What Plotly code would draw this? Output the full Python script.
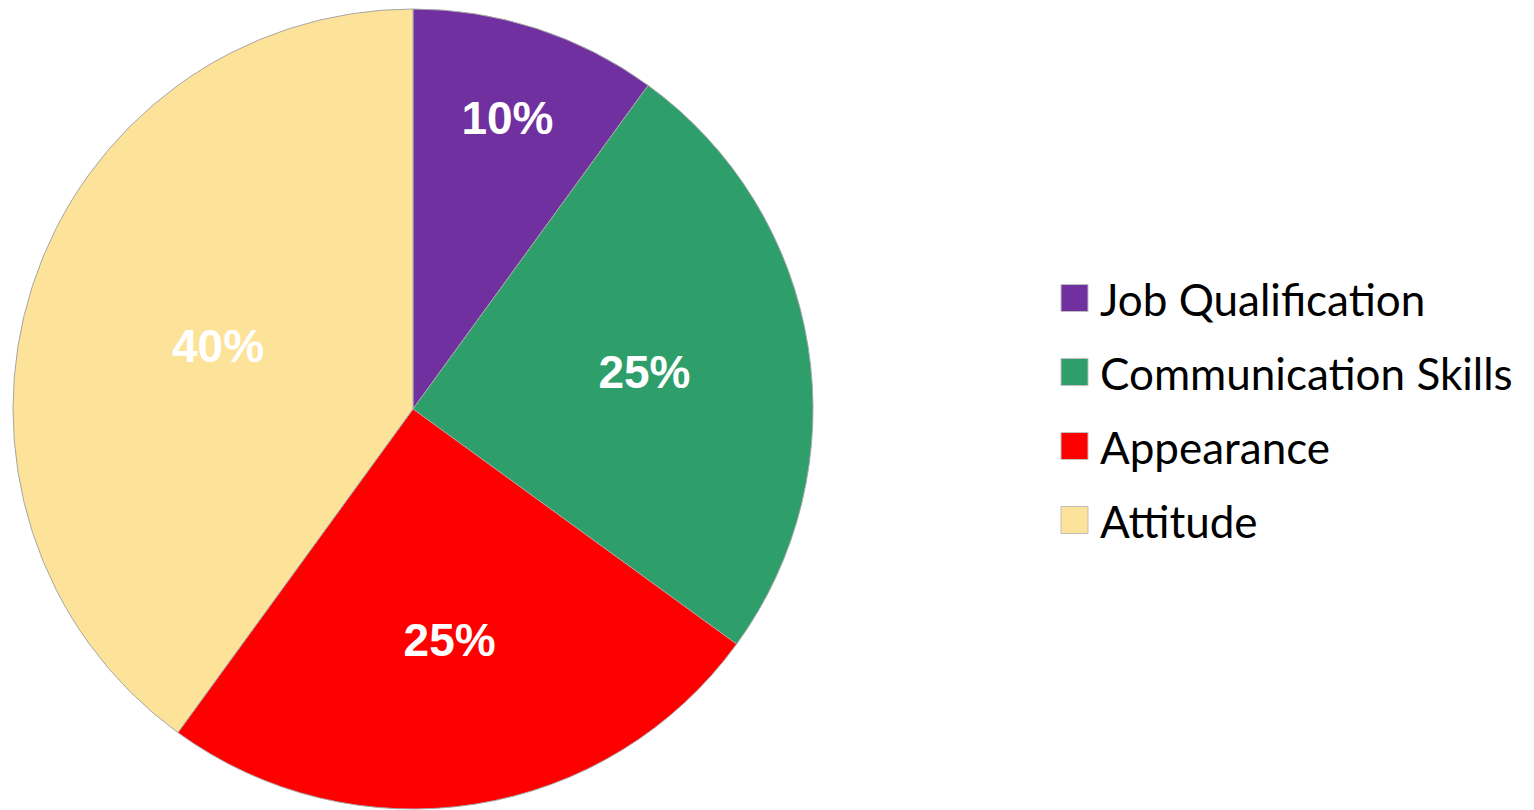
import plotly.graph_objects as go

categories = ["Job Qualification", "Communication Skills", "Appearance", "Attitude"]
values = [10, 25, 25, 40]
colors = ["#7030A0", "#2E9E6A", "#FF0000", "#FDE29A"]

W, H = 1534, 810
cx, cy, R = 413, 409, 400

fig = go.Figure(go.Pie(
    labels=categories,
    values=values,
    sort=False,
    direction="clockwise",
    rotation=0,
    marker=dict(colors=colors, line=dict(color="#A6A6A6", width=1)),
    textinfo="percent",
    texttemplate="%{percent:.0%}",
    textposition="inside",
    insidetextorientation="horizontal",
    textfont=dict(family="Liberation Sans, Arial", size=46, color="white", weight="bold"),
    domain=dict(x=[(cx - R) / W, (cx + R) / W], y=[(H - cy - R) / H, (H - cy + R) / H]),
    hoverinfo="label+percent",
    showlegend=False,
))

# Legend drawn manually to match the large swatches and spacing of the reference
leg_x0, leg_top, leg_step, sw = 1061, 298, 74, 27
shapes, annotations = [], []
for i, (cat, col) in enumerate(zip(categories, colors)):
    yc = leg_top + i * leg_step
    shapes.append(dict(
        type="rect", xref="paper", yref="paper",
        x0=leg_x0 / W, x1=(leg_x0 + sw) / W,
        y0=1 - (yc + sw / 2) / H, y1=1 - (yc - sw / 2) / H,
        fillcolor=col, line=dict(color="#BFBFBF", width=1),
    ))
    annotations.append(dict(
        text=cat, xref="paper", yref="paper",
        x=1098 / W, xanchor="left",
        y=1 - (yc + 1) / H, yanchor="middle",
        showarrow=False,
        font=dict(family="Lato, Carlito, Calibri, sans-serif", size=44, color="black"),
    ))

fig.update_layout(
    width=W, height=H,
    margin=dict(l=0, r=0, t=0, b=0),
    paper_bgcolor="white",
    plot_bgcolor="white",
    showlegend=False,
    shapes=shapes,
    annotations=annotations,
)

fig.write_html("out.html")
